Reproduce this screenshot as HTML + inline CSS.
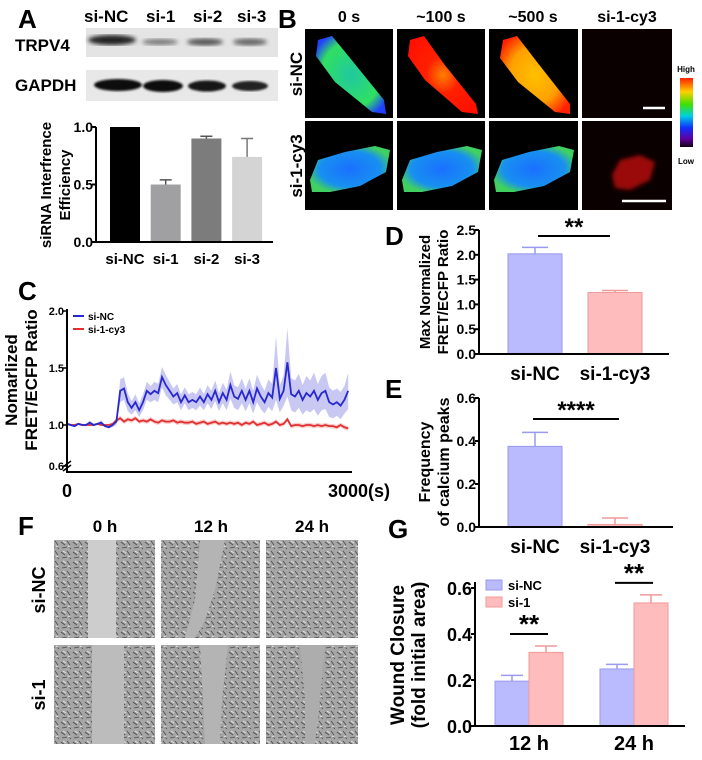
<!DOCTYPE html>
<html><head><meta charset="utf-8"><style>
body{margin:0;background:#fff}
svg{display:block;font-family:"Liberation Sans",Arial,sans-serif;font-weight:bold}
</style></head><body>
<svg id="fig" width="702" height="760" viewBox="0 0 702 760" xmlns="http://www.w3.org/2000/svg">
<defs>
<linearGradient id="cbar" x1="0" y1="0" x2="0" y2="1">
<stop offset="0" stop-color="#ff2000"/><stop offset="0.2" stop-color="#ffd000"/><stop offset="0.38" stop-color="#40e000"/><stop offset="0.55" stop-color="#00d0e0"/><stop offset="0.72" stop-color="#1030ff"/><stop offset="0.88" stop-color="#6000a0"/><stop offset="1" stop-color="#100010"/>
</linearGradient>
<radialGradient id="gCell1" cx="0.5" cy="0.5" r="0.6"><stop offset="0" stop-color="#20c8a0"/><stop offset="0.7" stop-color="#30e060"/><stop offset="1" stop-color="#2040ff"/></radialGradient>
<radialGradient id="gCell2" cx="0.5" cy="0.5" r="0.6"><stop offset="0" stop-color="#ff8000"/><stop offset="0.4" stop-color="#ff2000"/><stop offset="1" stop-color="#ff1000"/></radialGradient>
<radialGradient id="gCell3" cx="0.5" cy="0.5" r="0.6"><stop offset="0" stop-color="#ffc000"/><stop offset="0.6" stop-color="#ffa000"/><stop offset="1" stop-color="#ff2000"/></radialGradient>
<radialGradient id="gCellB" cx="0.5" cy="0.5" r="0.55"><stop offset="0" stop-color="#1a70ff"/><stop offset="0.7" stop-color="#1890f0"/><stop offset="1" stop-color="#40d060"/></radialGradient>
<filter id="blur2"><feGaussianBlur stdDeviation="2"/></filter>
<filter id="blur1"><feGaussianBlur stdDeviation="1"/></filter>
<pattern id="cells" width="12" height="10" patternUnits="userSpaceOnUse">
<rect width="12" height="10" fill="#a6a6a6"/><path d="M1 2 l4 3 M7 1 l3 4 M2 8 l5-1 M9 7 l2 2" stroke="#4a4a4a" stroke-width="0.8"/><path d="M3 1 l3 2 M8 6 l2 1" stroke="#e0e0e0" stroke-width="1"/>
</pattern>
</defs>

<!-- Panel A -->
<text x="18" y="28" font-size="26">A</text>
<g font-size="17">
<text x="84" y="22">si-NC</text><text x="146" y="22">si-1</text><text x="193" y="22">si-2</text><text x="237" y="22">si-3</text>
</g>
<text x="15" y="51" font-size="17">TRPV4</text>
<text x="15" y="91" font-size="17">GAPDH</text>
<g>
<rect x="86" y="28" width="192" height="29" fill="#e4e4e4"/>
<ellipse cx="112" cy="40" rx="24" ry="5" fill="#222" filter="url(#blur2)"/>
<ellipse cx="160" cy="42" rx="18" ry="3" fill="#777" filter="url(#blur2)"/>
<ellipse cx="205" cy="42" rx="18" ry="3.5" fill="#555" filter="url(#blur2)"/>
<ellipse cx="250" cy="42" rx="17" ry="3.5" fill="#666" filter="url(#blur2)"/>
</g>
<g>
<rect x="86" y="70" width="192" height="31" fill="#e8e8e8"/>
<ellipse cx="118" cy="85" rx="24" ry="6" fill="#111" filter="url(#blur1)"/>
<ellipse cx="163" cy="86" rx="20" ry="6" fill="#111" filter="url(#blur1)"/>
<ellipse cx="207" cy="86" rx="19" ry="5.5" fill="#151515" filter="url(#blur1)"/>
<ellipse cx="250" cy="86" rx="18" ry="5" fill="#222" filter="url(#blur1)"/>
</g>
<g id="chartA"></g>
<text transform="translate(51,185) rotate(-90)" text-anchor="middle" font-size="15">siRNA Interfrence</text>
<text transform="translate(70,185) rotate(-90)" text-anchor="middle" font-size="15">Efficiency</text>

<!-- Panel B -->
<text x="278" y="28" font-size="26">B</text>
<g font-size="16" text-anchor="middle">
<text x="349" y="22">0 s</text><text x="441" y="22">~100 s</text><text x="533" y="22">~500 s</text><text x="627" y="22">si-1-cy3</text>
</g>
<text transform="translate(302,74) rotate(-90)" text-anchor="middle" font-size="17">si-NC</text>
<text transform="translate(302,166) rotate(-90)" text-anchor="middle" font-size="17">si-1-cy3</text>
<g>
<rect x="305" y="29" width="88" height="89" fill="#000"/>
<rect x="397" y="29" width="88" height="89" fill="#000"/>
<rect x="489" y="29" width="89" height="89" fill="#000"/>
<rect x="582" y="29" width="90" height="89" fill="#0a0000"/>
<rect x="305" y="121" width="88" height="89" fill="#000"/>
<rect x="397" y="121" width="88" height="89" fill="#000"/>
<rect x="489" y="121" width="89" height="89" fill="#000"/>
<rect x="582" y="121" width="90" height="89" fill="#0a0000"/>
<path d="M318 40 L332 36 L350 58 L384 100 L386 114 L372 112 L335 82 L316 56 Z" fill="url(#gCell1)"/>
<path d="M410 40 L424 36 L444 64 L476 104 L478 114 L462 112 L425 80 L408 56 Z" fill="url(#gCell2)"/>
<path d="M503 40 L517 36 L537 62 L570 104 L570 114 L555 112 L518 82 L500 58 Z" fill="url(#gCell3)"/>
<path d="M310 180 L318 160 L345 152 L375 146 L390 150 L386 172 L360 186 L330 192 L312 192 Z" fill="url(#gCellB)"/>
<path d="M402 180 L410 160 L437 152 L467 146 L482 150 L478 172 L452 186 L422 192 L404 192 Z" fill="url(#gCellB)"/>
<path d="M494 180 L502 160 L529 152 L559 146 L574 150 L570 172 L544 186 L514 192 L496 192 Z" fill="url(#gCellB)"/>
<path d="M612 175 L620 160 L640 155 L655 162 L650 180 L630 190 L615 188 Z" fill="#c01010" opacity="0.8" filter="url(#blur2)"/>
<line x1="643" y1="108" x2="665" y2="108" stroke="#fff" stroke-width="2.5"/>
<line x1="622" y1="201" x2="666" y2="201" stroke="#fff" stroke-width="2.5"/>
</g>
<text x="686" y="72" font-size="8" text-anchor="middle">High</text>
<rect x="680" y="78" width="13" height="69" fill="url(#cbar)"/>
<text x="686" y="164" font-size="8" text-anchor="middle">Low</text>

<!-- Panel C -->
<text x="18" y="300" font-size="26">C</text>
<g id="chartC"></g>
<text transform="translate(17,380) rotate(-90)" text-anchor="middle" font-size="17">Nomarlized</text>
<text transform="translate(37,380) rotate(-90)" text-anchor="middle" font-size="17">FRET/ECFP  Ratio</text>

<!-- Panel D/E -->
<text x="385" y="245" font-size="26">D</text>
<g id="chartD"></g>
<text transform="translate(430,292) rotate(-90)" text-anchor="middle" font-size="15">Max  Normalized</text>
<text transform="translate(448,292) rotate(-90)" text-anchor="middle" font-size="15">FRET/ECFP Ratio</text>
<text x="385" y="398" font-size="26">E</text>
<g id="chartE"></g>
<text transform="translate(430,462) rotate(-90)" text-anchor="middle" font-size="16">Frequency</text>
<text transform="translate(449,462) rotate(-90)" text-anchor="middle" font-size="16">of calcium peaks</text>

<!-- Panel F -->
<text x="18" y="535" font-size="26">F</text>
<g font-size="17" text-anchor="middle">
<text x="105" y="532">0 h</text><text x="211" y="532">12 h</text><text x="312" y="532">24 h</text>
</g>
<text transform="translate(45,590) rotate(-90)" text-anchor="middle" font-size="18">si-NC</text>
<text transform="translate(45,695) rotate(-90)" text-anchor="middle" font-size="18">si-1</text>
<g>
<rect x="54" y="540" width="101" height="98" fill="url(#cells)"/>
<rect x="88" y="540" width="28" height="98" fill="#cdcdcd"/>
<rect x="161" y="540" width="99" height="98" fill="url(#cells)"/>
<path d="M200 540 L225 540 L215 590 L205 620 L195 638 L185 638 L195 600 Z" fill="#b4b4b4"/>
<rect x="266" y="540" width="92" height="98" fill="url(#cells)"/>
<rect x="54" y="645" width="101" height="99" fill="url(#cells)"/>
<rect x="92" y="645" width="32" height="99" fill="#bcbcbc"/>
<rect x="161" y="645" width="99" height="99" fill="url(#cells)"/>
<path d="M200 645 L228 645 L222 700 L220 744 L205 744 L203 700 Z" fill="#b4b4b4"/>
<rect x="266" y="645" width="92" height="99" fill="url(#cells)"/>
<path d="M300 645 L325 645 L320 700 L315 744 L305 744 L305 700 Z" fill="#adadad"/>
</g>

<!-- Panel G -->
<text x="388" y="538" font-size="26">G</text>
<g id="chartG"></g>
<text transform="translate(404,655) rotate(-90)" text-anchor="middle" font-size="19">Wound Closure</text>
<text transform="translate(425,655) rotate(-90)" text-anchor="middle" font-size="19">(fold initial area)</text>
</svg>
<script>
// ---- Panel A data ----
const catsA = ["si-NC","si-1","si-2","si-3"];
const valsA = [1.0, 0.50, 0.90, 0.74];
const errA = [0, 0.04, 0.02, 0.16];
const colorsA = ["#000000","#a0a0a2","#7c7c7c","#d4d4d4"];
const ticksA = ["0.0","0.5","1.0"];

// ---- Panel C data ----
const timeStepC = 40;
const siNCMean = [1.01,1.0,0.99,1.01,1.0,1.0,1.02,1.0,1.01,1.02,0.99,0.98,1.0,1.03,1.3,1.32,1.2,1.15,1.2,1.13,1.2,1.3,1.27,1.3,1.28,1.42,1.35,1.3,1.25,1.28,1.2,1.26,1.2,1.22,1.2,1.25,1.2,1.27,1.22,1.3,1.2,1.28,1.22,1.35,1.25,1.23,1.3,1.22,1.3,1.2,1.32,1.25,1.2,1.28,1.24,1.5,1.23,1.3,1.55,1.27,1.25,1.3,1.22,1.28,1.25,1.3,1.22,1.28,1.3,1.2,1.18,1.2,1.17,1.22,1.3];
const siNCSd = [0.01,0.01,0.01,0.01,0.01,0.01,0.02,0.01,0.01,0.02,0.01,0.01,0.02,0.03,0.1,0.1,0.08,0.06,0.07,0.06,0.07,0.08,0.07,0.08,0.08,0.09,0.09,0.08,0.07,0.08,0.07,0.07,0.07,0.07,0.07,0.08,0.07,0.08,0.08,0.09,0.08,0.09,0.09,0.12,0.1,0.1,0.11,0.1,0.11,0.1,0.12,0.11,0.1,0.12,0.12,0.28,0.12,0.13,0.3,0.14,0.14,0.15,0.13,0.15,0.14,0.16,0.14,0.15,0.16,0.13,0.12,0.12,0.12,0.12,0.16];
const siCy3Mean = [1.01,1.0,1.0,1.01,1.0,1.0,1.0,1.0,1.01,1.0,1.0,1.0,1.01,1.04,1.06,1.03,1.05,1.04,1.06,1.03,1.04,1.03,1.05,1.03,1.02,1.04,1.03,1.03,1.04,1.02,1.03,1.02,1.02,1.03,1.01,1.02,1.03,1.01,1.02,1.03,1.01,1.02,1.01,1.02,1.01,1.02,1.0,1.02,1.01,1.03,1.0,1.01,1.02,1.0,1.01,1.03,1.0,1.01,1.05,0.99,1.0,1.0,0.99,1.0,1.0,0.99,1.0,0.99,1.0,0.99,0.99,0.98,1.0,0.98,0.97];
const siCy3Sd = [0.01,0.01,0.01,0.01,0.01,0.01,0.01,0.01,0.01,0.01,0.01,0.01,0.01,0.02,0.02,0.02,0.02,0.02,0.02,0.02,0.02,0.02,0.02,0.02,0.02,0.02,0.02,0.02,0.02,0.02,0.02,0.02,0.02,0.02,0.02,0.02,0.02,0.02,0.02,0.02,0.02,0.02,0.02,0.02,0.02,0.02,0.02,0.02,0.02,0.02,0.02,0.02,0.02,0.02,0.02,0.02,0.02,0.02,0.02,0.02,0.02,0.02,0.02,0.02,0.02,0.02,0.02,0.02,0.02,0.02,0.02,0.02,0.02,0.02,0.02];
const ticksC = ["0.6","1.0","1.5","2.0"];
const legendC = ["si-NC","si-1-cy3"];

// ---- Panel D data ----
const catsD = ["si-NC","si-1-cy3"];
const valsD = [2.02, 1.24];
const errD = [0.13, 0.04];
const ticksD = ["0.0","0.5","1.0","1.5","2.0","2.5"];

// ---- Panel E data ----
const catsE = ["si-NC","si-1-cy3"];
const valsE = [0.375, 0.012];
const errE = [0.065, 0.03];
const ticksE = ["0.0","0.2","0.4","0.6"];

// ---- Panel G data ----
const groupsG = ["12 h","24 h"];
const seriesG = ["si-NC","si-1"];
const valsGNC = [0.195, 0.248];
const errGNC = [0.025, 0.02];
const valsGSi1 = [0.32, 0.535];
const errGSi1 = [0.028, 0.035];
const ticksG = ["0.0","0.2","0.4","0.6"];

const NS="http://www.w3.org/2000/svg";
function mk(parent,tag,attrs,text){const e=document.createElementNS(NS,tag);for(const k in attrs)e.setAttribute(k,attrs[k]);if(text!==undefined)e.textContent=text;parent.appendChild(e);return e;}
const BLUE="#babaff", BLUE_E="#9a9aee", PINK="#ffbcbc", PINK_E="#f09a9a";

// Panel A
(function(){
 const g=document.getElementById('chartA');
 const x0=96,x1=273,yb=242,yt=127,ymax=1.0;
 const y=v=>yb-(v/ymax)*(yb-yt);
 const bw=30,step=40.7,first=110;
 catsA.forEach((c,i)=>{
  const bx=first+i*step;
  const r=mk(g,'rect',{x:bx,y:y(valsA[i]),width:bw,height:yb-y(valsA[i]),fill:colorsA[i]});
  
  
  if(errA[i]>0){const e=mk(g,'path',{d:`M${bx+bw/2} ${y(valsA[i])} V${y(valsA[i]+errA[i])} M${bx+bw/2-6} ${y(valsA[i]+errA[i])} H${bx+bw/2+6}`,stroke:colorsA[i]==="#d4d4d4"?"#777":"#555","stroke-width":1.5,fill:"none"});
   
   }
  const t=mk(g,'text',{x:bx+bw/2,y:264,"font-size":15,"text-anchor":"middle"},c);
  
  
 });
 mk(g,'path',{d:`M${x0} ${yt} V${yb} H${x1}`,stroke:"#000","stroke-width":2,fill:"none"});
 ticksA.forEach(tk=>{const v=parseFloat(tk);
  mk(g,'line',{x1:x0-4,x2:x0,y1:y(v),y2:y(v),stroke:"#000","stroke-width":2});
  const t=mk(g,'text',{x:x0-3,y:y(v)+5,"font-size":14,"text-anchor":"end"},tk);
  
  });
})();

// Panel C
(function(){
 const g=document.getElementById('chartC');
 const x0=67,x1=352,yb=472;
 const xs=t=>x0+t/3000*(x1-x0);
 const ys=v=>v<=0.6?466:425-(v-1.0)*114;
 function band(mean,sd,fill,name){
  let up=mean.map((m,i)=>`${xs(i*timeStepC).toFixed(1)},${ys(m+sd[i]).toFixed(1)}`);
  let dn=mean.map((m,i)=>`${xs(i*timeStepC).toFixed(1)},${ys(m-sd[i]).toFixed(1)}`).reverse();
  const p=mk(g,'polygon',{points:up.concat(dn).join(' '),fill:fill,opacity:0.55});
  
  
 }
 function line(mean,color,name){
  const p=mk(g,'polyline',{points:mean.map((m,i)=>`${xs(i*timeStepC).toFixed(1)},${ys(m).toFixed(1)}`).join(' '),fill:"none",stroke:color,"stroke-width":1.8});
  
  
 }
 band(siCy3Mean,siCy3Sd,"#f4a0a0","si-1-cy3");
 band(siNCMean,siNCSd,"#9a9ae8","si-nc");
 line(siCy3Mean,"#e03030","si-1-cy3");
 line(siNCMean,"#2828d0","si-nc");
 mk(g,'path',{d:`M${x0} 309 V${yb} H${x1}`,stroke:"#000","stroke-width":2,fill:"none"});
 mk(g,'path',{d:`M${x0-4} 467 L${x0+4} 461 M${x0-4} 471 L${x0+4} 465`,stroke:"#000","stroke-width":1.5});
 ticksC.forEach(tk=>{const v=parseFloat(tk);const yy=v===0.6?466:ys(v);
  mk(g,'line',{x1:x0-4,x2:x0,y1:yy,y2:yy,stroke:"#000","stroke-width":1.5});
  const t=mk(g,'text',{x:x0-3,y:yy+4,"font-size":11,"text-anchor":"end"},tk);
  
  });
 const l0=mk(g,'text',{x:x0,y:497,"font-size":18,"text-anchor":"middle"},"0");
 
 
 const l1=mk(g,'text',{x:328,y:497,"font-size":18},"3000(s)");
 
 
 const cols=["#2828d0","#e03030"];
 legendC.forEach((n,i)=>{
  mk(g,'line',{x1:73,x2:84,y1:316+i*13,y2:316+i*13,stroke:cols[i],"stroke-width":2});
  const t=mk(g,'text',{x:88,y:320+i*13,"font-size":10},n);
  
  
 });
})();

function barPair(id,cats,vals,errs,ticks,x0,x1,yb,yt,ymax,labelY,sig,sigY,sigX0,sigX1){
 const g=document.getElementById(id);
 const y=v=>yb-(v/ymax)*(yb-yt);
 const bxs=[508,588],bw=54,fills=[BLUE,PINK],strokes=[BLUE_E,PINK_E];
 cats.forEach((c,i)=>{
  const r=mk(g,'rect',{x:bxs[i],y:y(vals[i]),width:bw,height:yb-y(vals[i]),fill:fills[i],stroke:strokes[i],"stroke-width":1});
  
  
  const cx=bxs[i]+bw/2;
  const e=mk(g,'path',{d:`M${cx} ${y(vals[i])} V${y(vals[i]+errs[i])} M${cx-13} ${y(vals[i]+errs[i])} H${cx+13}`,stroke:strokes[i],"stroke-width":1.5,fill:"none"});
  
  
  const t=mk(g,'text',{x:cx,y:labelY,"font-size":19,"text-anchor":"middle"},c);
  
  
 });
 mk(g,'path',{d:`M${x0} ${yt} V${yb} H${x1}`,stroke:"#000","stroke-width":2,fill:"none"});
 ticks.forEach(tk=>{const v=parseFloat(tk);
  mk(g,'line',{x1:x0-4,x2:x0,y1:y(v),y2:y(v),stroke:"#000","stroke-width":2});
  const t=mk(g,'text',{x:x0-3,y:y(v)+5,"font-size":14,"text-anchor":"end"},tk);
  
  });
 mk(g,'line',{x1:sigX0,x2:sigX1,y1:sigY,y2:sigY,stroke:"#000","stroke-width":2});
 const s=mk(g,'text',{x:(sigX0+sigX1)/2,y:sigY-1,"font-size":24,"text-anchor":"middle"},sig);
 
 
}
barPair('chartD',catsD,valsD,errD,ticksD,479,669,354,230,2.5,380,"**",236,538,610);
barPair('chartE',catsE,valsE,errE,ticksE,479,673,527,398,0.6,553,"****",419,533,619);

// Panel G
(function(){
 const g=document.getElementById('chartG');
 const x0=475,x1=685,yb=726,yt=588,ymax=0.6;
 const y=v=>yb-(v/ymax)*(yb-yt);
 const gx=[495,600],bw=34;
 groupsG.forEach((gr,i)=>{
  [[valsGNC,errGNC,BLUE,BLUE_E,"si-nc"],[valsGSi1,errGSi1,PINK,PINK_E,"si-1"]].forEach((s,j)=>{
   const bx=gx[i]+j*bw, v=s[0][i], e=s[1][i];
   const r=mk(g,'rect',{x:bx,y:y(v),width:bw,height:yb-y(v),fill:s[2],stroke:s[3],"stroke-width":1});
   
   
   const cx=bx+bw/2;
   const p=mk(g,'path',{d:`M${cx} ${y(v)} V${y(v+e)} M${cx-11} ${y(v+e)} H${cx+11}`,stroke:s[3],"stroke-width":1.5,fill:"none"});
   
   
  });
  const t=mk(g,'text',{x:gx[i]+bw,y:750,"font-size":20,"text-anchor":"middle"},gr);
  
  
  const top=Math.max(valsGNC[i]+errGNC[i],valsGSi1[i]+errGSi1[i]);
  const sy=y(top)-12;
  mk(g,'line',{x1:gx[i]+15,x2:gx[i]+53,y1:sy,y2:sy,stroke:"#000","stroke-width":2});
  const s=mk(g,'text',{x:gx[i]+bw,y:sy-1,"font-size":26,"text-anchor":"middle"},"**");
  
  
 });
 mk(g,'path',{d:`M${x0} ${yt-6} V${yb} H${x1}`,stroke:"#000","stroke-width":2,fill:"none"});
 ticksG.forEach(tk=>{const v=parseFloat(tk);
  mk(g,'line',{x1:x0-4,x2:x0,y1:y(v),y2:y(v),stroke:"#000","stroke-width":2});
  const t=mk(g,'text',{x:x0-3,y:y(v)+7,"font-size":18,"text-anchor":"end"},tk);
  
  });
 const lf=[[BLUE,BLUE_E],[PINK,PINK_E]];
 seriesG.forEach((n,i)=>{
  mk(g,'rect',{x:486,y:580+i*17,width:16,height:10,fill:lf[i][0],stroke:lf[i][1]});
  const t=mk(g,'text',{x:508,y:590+i*17,"font-size":13},n);
  
  
 });
})();
</script>
</body></html>
